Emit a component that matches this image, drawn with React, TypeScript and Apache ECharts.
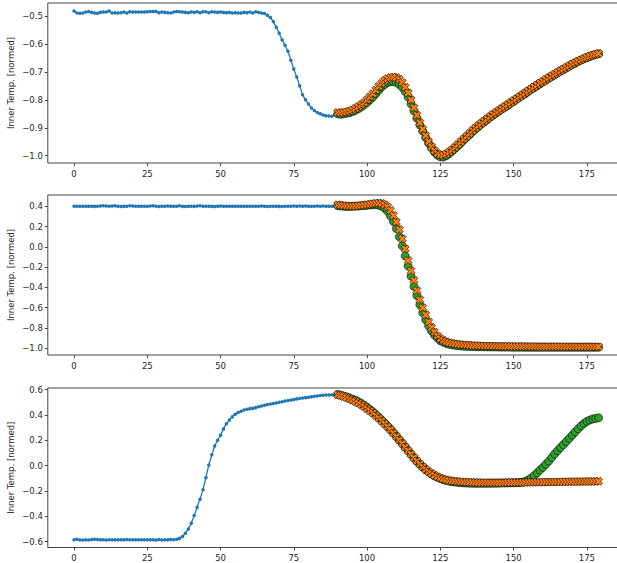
import React, { useEffect, useRef } from "react";
import * as echarts from "echarts";

// Three temperature sequences: 90 input steps, then 90 target steps with model predictions.
const INPUT_LEN = 90;

const xTicks = [0, 25, 50, 75, 100, 125, 150, 175];
const yTicksA = [-1.0, -0.9, -0.8, -0.7, -0.6, -0.5];
const yTicksB = [-1.0, -0.8, -0.6, -0.4, -0.2, 0.0, 0.2, 0.4];
const yTicksC = [-0.6, -0.4, -0.2, 0.0, 0.2, 0.4, 0.6];

const inputsA = [
  -0.482, -0.489, -0.49, -0.489, -0.486, -0.484, -0.487, -0.489, -0.49, -0.487,
  -0.486, -0.486, -0.482, -0.489, -0.488, -0.489, -0.488, -0.486, -0.489, -0.485,
  -0.486, -0.486, -0.486, -0.486, -0.486, -0.485, -0.484, -0.484, -0.484, -0.488,
  -0.486, -0.487, -0.488, -0.489, -0.486, -0.484, -0.485, -0.486, -0.487, -0.488,
  -0.486, -0.487, -0.485, -0.488, -0.485, -0.485, -0.488, -0.485, -0.486, -0.487,
  -0.486, -0.487, -0.488, -0.487, -0.489, -0.488, -0.489, -0.489, -0.487, -0.488,
  -0.486, -0.489, -0.485,
  -0.487, -0.489, -0.491, -0.497, -0.505, -0.52, -0.54, -0.562, -0.585, -0.605,
  -0.626, -0.658, -0.69, -0.718, -0.75, -0.782, -0.8, -0.815, -0.829, -0.838,
  -0.845, -0.85, -0.854, -0.857, -0.858, -0.859, -0.853,
];
const labelsA = [
  -0.85, -0.852, -0.85, -0.848, -0.846, -0.842, -0.838, -0.832, -0.826, -0.818,
  -0.81, -0.8, -0.79, -0.778, -0.766, -0.754, -0.745, -0.738, -0.735, -0.735,
  -0.738, -0.745, -0.755, -0.77, -0.79, -0.815, -0.84, -0.866, -0.89, -0.912,
  -0.935, -0.955, -0.972, -0.987, -0.998, -1.004, -1.005, -1.0, -0.993, -0.984,
  -0.974, -0.965, -0.955, -0.944, -0.934, -0.925, -0.914, -0.905, -0.896, -0.887,
  -0.879, -0.871, -0.862, -0.855, -0.848, -0.841, -0.833, -0.827, -0.82, -0.812,
  -0.806, -0.798, -0.791, -0.784, -0.778, -0.77, -0.763, -0.757, -0.75, -0.743,
  -0.736, -0.73, -0.723, -0.717, -0.711, -0.704, -0.698, -0.692, -0.686, -0.68,
  -0.674, -0.669, -0.663, -0.658, -0.653, -0.649, -0.645, -0.641, -0.638, -0.635,
];
const predsA = [
  -0.845, -0.846, -0.845, -0.843, -0.84, -0.836, -0.831, -0.825, -0.818, -0.81,
  -0.8, -0.789, -0.778, -0.765, -0.752, -0.741, -0.731, -0.724, -0.72, -0.718,
  -0.72, -0.727, -0.738, -0.755, -0.775, -0.8, -0.828, -0.855, -0.882, -0.905,
  -0.928, -0.95, -0.968, -0.982, -0.992, -0.997, -0.998, -0.994, -0.987, -0.979,
  -0.97, -0.96, -0.95, -0.94, -0.93, -0.92, -0.91, -0.901, -0.892, -0.884,
  -0.876, -0.868, -0.86, -0.852, -0.845, -0.838, -0.831, -0.824, -0.817, -0.81,
  -0.803, -0.796, -0.789, -0.782, -0.775, -0.768, -0.761, -0.754, -0.747, -0.74,
  -0.734, -0.727, -0.721, -0.714, -0.708, -0.702, -0.696, -0.69, -0.684, -0.678,
  -0.672, -0.667, -0.662, -0.657, -0.652, -0.648, -0.644, -0.64, -0.637, -0.634,
];

const inputsB = [
  0.401, 0.401, 0.401, 0.4, 0.401, 0.401, 0.4, 0.399, 0.4, 0.402,
  0.405, 0.402, 0.401, 0.403, 0.405, 0.4, 0.398, 0.399, 0.401, 0.404,
  0.403, 0.4, 0.401, 0.401, 0.4, 0.401, 0.402, 0.404, 0.4, 0.398,
  0.4, 0.401, 0.402, 0.401, 0.4, 0.401, 0.404, 0.399, 0.398, 0.4,
  0.401, 0.399, 0.402, 0.404, 0.401, 0.4, 0.401, 0.399, 0.398, 0.4,
  0.403, 0.401, 0.401, 0.401, 0.401, 0.401, 0.401, 0.4, 0.4, 0.401,
  0.401, 0.401, 0.401, 0.401, 0.402, 0.4, 0.398, 0.401, 0.4, 0.401,
  0.399, 0.398, 0.4, 0.401, 0.401, 0.403, 0.401, 0.402, 0.401, 0.402,
  0.401, 0.4, 0.4, 0.402, 0.401, 0.402, 0.401, 0.4, 0.401, 0.4,
];
const labelsB = [
  0.405, 0.402, 0.4, 0.398, 0.398, 0.4, 0.401, 0.402, 0.405, 0.407,
  0.41, 0.413, 0.415, 0.416, 0.41, 0.4, 0.38, 0.35, 0.305, 0.25,
  0.18, 0.1, 0.01, -0.09, -0.19, -0.29, -0.39, -0.48, -0.57, -0.65,
  -0.72, -0.78, -0.83, -0.87, -0.9, -0.925, -0.94, -0.952, -0.96, -0.966,
  -0.97, -0.974, -0.977, -0.979, -0.981, -0.982, -0.983, -0.984, -0.985, -0.985,
  -0.986, -0.986, -0.987, -0.987, -0.987, -0.988, -0.988, -0.988, -0.988, -0.989,
  -0.989, -0.989, -0.989, -0.989, -0.99, -0.99, -0.99, -0.99, -0.99, -0.99,
  -0.99, -0.99, -0.99, -0.99, -0.99, -0.99, -0.99, -0.99, -0.99, -0.99,
  -0.99, -0.99, -0.99, -0.99, -0.99, -0.99, -0.99, -0.99, -0.99, -0.99,
];
const predsB = [
  0.415, 0.41, 0.407, 0.404, 0.402, 0.401, 0.402, 0.404, 0.407, 0.41,
  0.415, 0.42, 0.425, 0.43, 0.432, 0.428, 0.415, 0.392, 0.36, 0.31,
  0.245, 0.17, 0.08, -0.02, -0.135, -0.235, -0.33, -0.43, -0.52, -0.6,
  -0.67, -0.74, -0.795, -0.84, -0.878, -0.905, -0.922, -0.935, -0.944, -0.951,
  -0.956, -0.96, -0.963, -0.966, -0.968, -0.97, -0.972, -0.974, -0.975, -0.976,
  -0.977, -0.978, -0.978, -0.979, -0.979, -0.98, -0.98, -0.981, -0.981, -0.981,
  -0.982, -0.982, -0.982, -0.982, -0.983, -0.983, -0.983, -0.983, -0.983, -0.984,
  -0.984, -0.984, -0.984, -0.984, -0.984, -0.984, -0.984, -0.985, -0.985, -0.985,
  -0.985, -0.985, -0.985, -0.985, -0.985, -0.985, -0.985, -0.985, -0.985, -0.985,
];

const inputsC = [
  -0.585, -0.581, -0.587, -0.588, -0.586, -0.587, -0.584, -0.582, -0.583, -0.585,
  -0.586, -0.588, -0.585, -0.586, -0.585, -0.586, -0.586, -0.585, -0.584, -0.586,
  -0.585, -0.586, -0.585, -0.586, -0.585, -0.586, -0.585, -0.586, -0.587, -0.584,
  -0.588, -0.586, -0.585, -0.583, -0.585, -0.581,
  -0.575, -0.56, -0.535, -0.5, -0.455, -0.395, -0.33, -0.265, -0.19, -0.095,
  0.005, 0.085, 0.155, 0.2, 0.24, 0.29, 0.33, 0.36, 0.385, 0.405,
  0.42, 0.43, 0.44, 0.445, 0.45, 0.452, 0.458, 0.465, 0.47, 0.476,
  0.482, 0.487, 0.49, 0.495, 0.5, 0.505, 0.51, 0.515, 0.518, 0.522,
  0.527, 0.53, 0.534, 0.537, 0.54, 0.544, 0.547, 0.55, 0.553, 0.555,
  0.557, 0.558, 0.56, 0.558,
];
const labelsC = [
  0.562, 0.557, 0.55, 0.543, 0.535, 0.526, 0.516, 0.505, 0.492, 0.477,
  0.461, 0.443, 0.424, 0.404, 0.382, 0.36, 0.336, 0.312, 0.287, 0.26,
  0.232, 0.204, 0.176, 0.147, 0.119, 0.09, 0.062, 0.035, 0.011, -0.012,
  -0.033, -0.051, -0.067, -0.081, -0.093, -0.103, -0.111, -0.118, -0.123, -0.127,
  -0.13, -0.133, -0.135, -0.137, -0.138, -0.139, -0.139, -0.14, -0.14, -0.14,
  -0.14, -0.14, -0.14, -0.14, -0.139, -0.139, -0.138, -0.138, -0.137, -0.137,
  -0.136, -0.135, -0.134, -0.131, -0.124, -0.113, -0.098, -0.079, -0.058, -0.036,
  -0.014, 0.01, 0.035, 0.063, 0.092, 0.118, 0.143, 0.166, 0.19, 0.215,
  0.24, 0.265, 0.29, 0.313, 0.333, 0.349, 0.36, 0.368, 0.373, 0.378,
];
const predsC = [
  0.56, 0.553, 0.545, 0.537, 0.527, 0.517, 0.507, 0.495, 0.482, 0.466,
  0.45, 0.433, 0.415, 0.395, 0.374, 0.352, 0.33, 0.307, 0.283, 0.257,
  0.23, 0.202, 0.174, 0.146, 0.118, 0.09, 0.062, 0.036, 0.012, -0.01,
  -0.03, -0.048, -0.063, -0.077, -0.088, -0.098, -0.106, -0.112, -0.117, -0.121,
  -0.124, -0.126, -0.128, -0.13, -0.131, -0.132, -0.133, -0.134, -0.134, -0.135,
  -0.135, -0.135, -0.135, -0.135, -0.135, -0.135, -0.135, -0.135, -0.134, -0.134,
  -0.134, -0.134, -0.133, -0.133, -0.133, -0.132, -0.132, -0.132, -0.131, -0.131,
  -0.131, -0.13, -0.13, -0.13, -0.129, -0.129, -0.129, -0.128, -0.128, -0.128,
  -0.127, -0.127, -0.127, -0.126, -0.126, -0.126, -0.125, -0.125, -0.125, -0.124,
];

const panels = [
  { inputs: inputsA, labels: labelsA, preds: predsA, yTicks: yTicksA, yMin: -1.026, yMax: -0.4535, top: 3, height: 160 },
  { inputs: inputsB, labels: labelsB, preds: predsB, yTicks: yTicksB, yMin: -1.066, yMax: 0.511, top: 195, height: 160 },
  { inputs: inputsC, labels: labelsC, preds: predsC, yTicks: yTicksC, yMin: -0.647, yMax: 0.613, top: 388, height: 159.5 },
];

const BLUE = "#1f77b4";
const ORANGE = "#ff7f0e";
const GREEN = "#2ca02c";
const INK = "#262626";
const FONT = "DejaVu Sans";
const FONT_SIZE = 8.5;
const X_MARKER =
  "path://M0.25,0L0.5,0.25L0.75,0L1,0.25L0.75,0.5L1,0.75L0.75,1L0.5,0.75L0.25,1L0,0.75L0.25,0.5L0,0.25Z";

const fmtY = (v: number) => {
  const s = Math.abs(v) < 1e-9 ? "0.0" : v.toFixed(1);
  return s.replace("-", "\u2212");
};

export default function App() {
  const ref = useRef<HTMLDivElement>(null);

  useEffect(() => {
    if (!ref.current) return;
    const chart = echarts.init(ref.current, undefined, { renderer: "svg" });

    const grid: any[] = [];
    const xAxis: any[] = [];
    const yAxis: any[] = [];
    const series: any[] = [];

    panels.forEach((p, i) => {
      grid.push({
        left: 47.8,
        width: 577,
        top: p.top,
        height: p.height,
        containLabel: false,
        outerBoundsMode: "none",
        show: true,
        borderColor: "#444",
        borderWidth: 1,
        backgroundColor: "transparent",
      });
      xAxis.push({
        type: "value",
        gridIndex: i,
        position: "bottom",
        min: -8.95,
        max: 187.95,
        axisLine: { show: false, onZero: false },
        splitLine: { show: false },
        axisTick: { show: true, length: 3, lineStyle: { color: "#444" }, customValues: xTicks },
        axisLabel: {
          show: true,
          customValues: xTicks,
          fontFamily: FONT,
          fontSize: FONT_SIZE,
          color: INK,
          margin: 6,
          formatter: (v: number) => String(v),
        },
      });
      yAxis.push({
        type: "value",
        gridIndex: i,
        position: "left",
        min: p.yMin,
        max: p.yMax,
        name: "Inner Temp. [normed]",
        nameLocation: "middle",
        nameRotate: 90,
        nameGap: 32,
        nameMoveOverlap: false,
        nameTextStyle: { fontFamily: FONT, fontSize: FONT_SIZE, color: INK },
        axisLine: { show: false, onZero: false },
        splitLine: { show: false },
        axisTick: { show: true, length: 3, lineStyle: { color: "#444" }, customValues: p.yTicks },
        axisLabel: {
          show: true,
          customValues: p.yTicks,
          fontFamily: FONT,
          fontSize: FONT_SIZE,
          color: INK,
          margin: 5,
          formatter: fmtY,
        },
      });
      series.push({
        type: "line",
        xAxisIndex: i,
        yAxisIndex: i,
        data: p.inputs.map((v, k) => [k, v]),
        symbol: "circle",
        symbolSize: 3.5,
        showSymbol: true,
        lineStyle: { color: BLUE, width: 1.3 },
        itemStyle: { color: BLUE },
        silent: true,
        z: 2,
      });
      series.push({
        type: "scatter",
        xAxisIndex: i,
        yAxisIndex: i,
        data: p.labels.map((v, k) => [INPUT_LEN + k, v]),
        symbol: "circle",
        symbolSize: 8,
        itemStyle: { color: GREEN, borderColor: "#000", borderWidth: 0.6, opacity: 1 },
        silent: true,
        z: 3,
      });
      series.push({
        type: "scatter",
        xAxisIndex: i,
        yAxisIndex: i,
        data: p.preds.map((v, k) => [INPUT_LEN + k, v]),
        symbol: X_MARKER,
        symbolSize: 8,
        itemStyle: { color: ORANGE, borderColor: "#000", borderWidth: 0.6, opacity: 1 },
        silent: true,
        z: 4,
      });
    });

    chart.setOption({
      animation: false,
      backgroundColor: "#ffffff",
      grid,
      xAxis,
      yAxis,
      series,
    });

    return () => chart.dispose();
  }, []);

  return (
    <div
      ref={ref}
      style={{ position: "absolute", left: 0, top: 0, width: 617, height: 563 }}
    />
  );
}
